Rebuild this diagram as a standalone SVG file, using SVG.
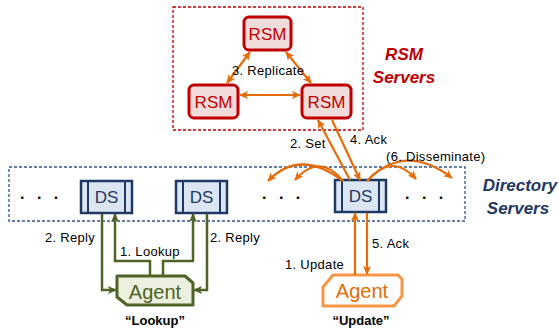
<svg xmlns="http://www.w3.org/2000/svg" width="559" height="329" viewBox="0 0 559 329">
<defs>
<marker id="ao" viewBox="0 0 10 10" refX="9" refY="5" markerWidth="9" markerHeight="9" markerUnits="userSpaceOnUse" orient="auto-start-reverse"><path d="M0,0.5 L10,5 L0,9.5 L2.5,5 z" fill="#e46c0a"/></marker>
<marker id="ag" viewBox="0 0 10 10" refX="9" refY="5" markerWidth="9" markerHeight="9" markerUnits="userSpaceOnUse" orient="auto-start-reverse"><path d="M0,0.5 L10,5 L0,9.5 L2.5,5 z" fill="#4f6228"/></marker>
</defs>
<style>
text{font-family:"Liberation Sans",Arial,sans-serif;}
.lbl{font-size:13px;fill:#000;letter-spacing:0.3px}
.rsm rect{fill:#f2dcdb;stroke:#c00000;stroke-width:3}
.rsm text{font-size:17px;fill:#c00000;text-anchor:middle}
.ds rect{fill:#dce6f2;stroke:#1f3864;stroke-width:2.5}
.ds line{stroke:#1f3864;stroke-width:2}
.ds text{font-size:17px;fill:#1f3864;text-anchor:middle}
.dots{font-size:16px;fill:#000;font-weight:bold;letter-spacing:4px}
.o{fill:none;stroke:#e46c0a;stroke-width:2.2}
.g{fill:none;stroke:#4f6228;stroke-width:2.5}
.title{font-size:17px;font-weight:bold;font-style:italic;text-anchor:middle}
.quote{font-size:13px;font-weight:bold;text-anchor:middle;fill:#000}
</style>

<rect x="173" y="7" width="190" height="123" fill="none" stroke="#c00000" stroke-width="1.3" stroke-dasharray="3,2"/>
<rect x="9" y="167" width="456" height="54" fill="none" stroke="#2f5597" stroke-width="1.3" stroke-dasharray="3,2"/>

<text class="title" x="404" y="60" fill="#c00000">RSM</text>
<text class="title" x="404" y="83" fill="#c00000">Servers</text>
<text class="title" x="520" y="191" fill="#1f3864">Directory</text>
<text class="title" x="518" y="214" fill="#1f3864">Servers</text>

<text class="dots" x="20" y="199">. . .</text>
<text class="dots" x="262" y="199">. . .</text>
<text class="dots" x="405" y="199">. . .</text>

<g id="rsm-top" class="rsm"><rect x="244" y="17" width="47" height="33" rx="5"/><text x="267.5" y="40">RSM</text></g>
<g id="rsm-left" class="rsm"><rect x="189" y="85" width="49" height="33" rx="5"/><text x="213.5" y="108">RSM</text></g>
<g id="rsm-right" class="rsm"><rect x="302" y="85" width="49" height="33" rx="5"/><text x="326.5" y="108">RSM</text></g>

<g id="ds1" class="ds"><rect x="81" y="181" width="51" height="32"/><line x1="88" y1="181" x2="88" y2="213"/><line x1="125" y1="181" x2="125" y2="213"/><text x="106.5" y="203">DS</text></g>
<g id="ds2" class="ds"><rect x="176" y="181" width="51" height="32"/><line x1="183" y1="181" x2="183" y2="213"/><line x1="220" y1="181" x2="220" y2="213"/><text x="201.5" y="203">DS</text></g>
<g id="ds3" class="ds"><rect x="335" y="180" width="51" height="32"/><line x1="342" y1="180" x2="342" y2="212"/><line x1="379" y1="180" x2="379" y2="212"/><text x="360.5" y="202">DS</text></g>

<g id="agent-lookup">
<polygon points="117,276 185,276 193,283 193,305 127,305 117,297" fill="#ebf1de" stroke="#4f6228" stroke-width="3" stroke-linejoin="round"/>
<text x="155" y="299" font-size="20" fill="#4f6228" text-anchor="middle">Agent</text>
</g>
<g id="agent-update">
<polygon points="333,275 398,275 402,279 402,296 394,306 323,306 323,287" fill="#fff" stroke="#f79646" stroke-width="3" stroke-linejoin="round"/>
<text x="362" y="298" font-size="20" fill="#e46c0a" text-anchor="middle">Agent</text>
</g>

<g id="connectors">
<line class="o" x1="250" y1="52" x2="227" y2="83" marker-start="url(#ao)" marker-end="url(#ao)"/>
<line class="o" x1="286" y1="52" x2="311" y2="83" marker-start="url(#ao)" marker-end="url(#ao)"/>
<line class="o" x1="240" y1="95" x2="300" y2="95" marker-start="url(#ao)" marker-end="url(#ao)"/>
<line class="o" x1="350" y1="180" x2="318" y2="120" marker-end="url(#ao)"/>
<line class="o" x1="332" y1="120" x2="360" y2="180" marker-end="url(#ao)"/>
<path class="o" d="M343,181 Q300,148 268,181" marker-end="url(#ao)"/>
<path class="o" d="M343,181 Q320,152 295,180" marker-end="url(#ao)"/>
<path class="o" d="M367,181 Q392,152 416,179" marker-end="url(#ao)"/>
<path class="o" d="M367,181 Q405,142 452,178" marker-end="url(#ao)"/>
<line class="o" x1="355" y1="275" x2="355" y2="213" marker-end="url(#ao)"/>
<line class="o" x1="367" y1="213" x2="367" y2="274" marker-end="url(#ao)"/>
<path class="g" d="M102,214 V290 H116" marker-end="url(#ag)"/>
<path class="g" d="M150,275 V261 H115 V214" marker-end="url(#ag)"/>
<path class="g" d="M163,275 V261 H193 V214" marker-end="url(#ag)"/>
<path class="g" d="M207,214 V290 H194" marker-end="url(#ag)"/>
</g>

<text class="lbl" x="232" y="75">3. Replicate</text>
<text class="lbl" x="290" y="148">2. Set</text>
<text class="lbl" x="350" y="144">4. Ack</text>
<text class="lbl" x="386" y="161">(6. Disseminate)</text>
<text class="lbl" x="45" y="242">2. Reply</text>
<text class="lbl" x="210" y="242">2. Reply</text>
<text class="lbl" x="120" y="256">1. Lookup</text>
<text class="lbl" x="285" y="269">1. Update</text>
<text class="lbl" x="372" y="248">5. Ack</text>
<text class="quote" x="155" y="325">“Lookup”</text>
<text class="quote" x="361" y="325">“Update”</text>
</svg>
